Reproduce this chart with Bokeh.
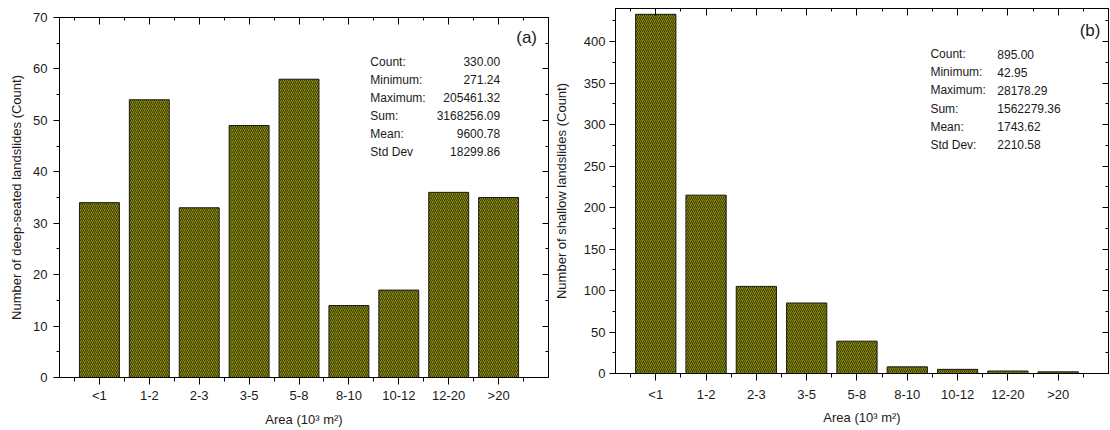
from bokeh.plotting import figure
from bokeh.layouts import row, column
from bokeh.models import Range1d, LinearAxis, FixedTicker, Label, Spacer
from bokeh.embed import file_html
from bokeh.resources import INLINE

categories = ["<1", "1-2", "2-3", "3-5", "5-8", "8-10", "10-12", "12-20", ">20"]
deep_counts = [34, 54, 33, 49, 58, 14, 17, 36, 35]
shallow_counts = [433, 215, 105, 85, 39, 8, 5, 3, 2]

deep_stat_names = ["Count:", "Minimum:", "Maximum:", "Sum:", "Mean:", "Std Dev"]
deep_stat_values = ["330.00", "271.24", "205461.32", "3168256.09", "9600.78", "18299.86"]
shallow_stat_names = ["Count:", "Minimum:", "Maximum:", "Sum:", "Mean:", "Std Dev:"]
shallow_stat_values = ["895.00", "42.95", "28178.29", "1562279.36", "1743.62", "2210.58"]

FONT = "Liberation Sans"
TXT = "#1a1a1a"
FILL = "#8a8a12"
HATCH = "#3a3a00"

positions = list(range(1, len(categories) + 1))
minor_x = [i - 0.5 for i in positions] + [positions[-1] + 0.5]


def make_panel(values, ymax, ymajor, yminor, ylabel, width, height, borders,
               ylab_standoff, xtick_standoff, xlab_standoff, ytick_standoff):
    left, right, top, bottom = borders
    p = figure(width=width, height=height, output_backend="svg", toolbar_location=None,
               x_range=Range1d(0.2, 10), y_range=Range1d(0, ymax),
               min_border_left=left, min_border_right=right,
               min_border_top=top, min_border_bottom=bottom,
               x_axis_location=None, y_axis_location=None)
    p.grid.visible = False
    p.outline_line_color = "black"
    p.outline_line_width = 1
    p.background_fill_color = "white"
    p.border_fill_color = "white"

    p.vbar(x=positions, top=values, bottom=0, width=0.8,
           fill_color=FILL, line_color="#1a1a1a", line_width=1,
           hatch_pattern="/", hatch_color=HATCH, hatch_scale=4, hatch_weight=1.0)

    yticks = list(range(0, int(ymax) + 1, ymajor))
    yminors = list(range(0, int(ymax) + 1, yminor))
    xt = FixedTicker(ticks=positions, minor_ticks=minor_x)
    yt = FixedTicker(ticks=yticks, minor_ticks=yminors)

    bx = LinearAxis(ticker=xt, axis_label="Area (10\u00b3 m\u00b2)")
    bx.major_label_overrides = {pos: c for pos, c in zip(positions, categories)}
    bx.major_tick_in = 0
    bx.major_tick_out = 7
    bx.minor_tick_in = 0
    bx.minor_tick_out = 4
    bx.major_label_standoff = xtick_standoff
    bx.axis_label_standoff = xlab_standoff
    p.add_layout(bx, "below")

    ly = LinearAxis(ticker=yt, axis_label=ylabel)
    ly.major_tick_in = 0
    ly.major_tick_out = 6
    ly.minor_tick_in = 0
    ly.minor_tick_out = 3
    ly.major_label_standoff = ytick_standoff
    ly.axis_label_standoff = ylab_standoff
    p.add_layout(ly, "left")

    tx = LinearAxis(ticker=FixedTicker(ticks=positions, minor_ticks=minor_x))
    tx.major_tick_in = 7
    tx.major_tick_out = 0
    tx.minor_tick_in = 3
    tx.minor_tick_out = 0
    tx.major_label_overrides = {pos: "" for pos in positions}
    tx.major_label_standoff = 0
    p.add_layout(tx, "above")

    ry = LinearAxis(ticker=FixedTicker(ticks=yticks, minor_ticks=yminors))
    ry.major_tick_in = 6
    ry.major_tick_out = 0
    ry.minor_tick_in = 3
    ry.minor_tick_out = 0
    ry.major_label_overrides = {t: "" for t in yticks}
    ry.major_label_standoff = 0
    p.add_layout(ry, "right")

    for ax in (bx, ly, tx, ry):
        ax.axis_line_color = "black"
        ax.axis_line_width = 1
        ax.major_tick_line_color = "black"
        ax.minor_tick_line_color = "black"
        ax.major_tick_line_width = 1
        ax.minor_tick_line_width = 1
        ax.major_label_text_font = FONT
        ax.axis_label_text_font = FONT
        ax.axis_label_text_font_style = "normal"
        ax.major_label_text_color = TXT
        ax.axis_label_text_color = TXT
        ax.major_label_text_font_size = "13px"
        ax.axis_label_text_font_size = "13px"
    return p


p1 = make_panel(deep_counts, 70, 10, 5, "Number of deep-seated landslides (Count)",
                550, 421, (59, 2, 8, 53), ylab_standoff=6, xtick_standoff=3,
                xlab_standoff=6, ytick_standoff=6)
p2 = make_panel(shallow_counts, 440, 50, 25, "Number of shallow landslides (Count)",
                560, 430, (65, 2, 8, 57), ylab_standoff=12, xtick_standoff=6,
                xlab_standoff=5, ytick_standoff=4)

# stats boxes
for i, (n, v) in enumerate(zip(deep_stat_names, deep_stat_values)):
    y = 61.4 - 3.5 * i
    p1.add_layout(Label(x=6.43, y=y, text=n, text_font=FONT, text_font_size="12px",
                        text_color=TXT, text_baseline="middle", text_align="left"))
    p1.add_layout(Label(x=9.03, y=y, text=v, text_font=FONT, text_font_size="12px",
                        text_color=TXT, text_baseline="middle", text_align="right"))

for i, (n, v) in enumerate(zip(shallow_stat_names, shallow_stat_values)):
    y = 385 - 21.9 * i
    p2.add_layout(Label(x=6.46, y=y, text=n, text_font=FONT, text_font_size="12px",
                        text_color=TXT, text_baseline="middle", text_align="left"))
    p2.add_layout(Label(x=7.79, y=y, text=v, text_font=FONT, text_font_size="12px",
                        text_color=TXT, text_baseline="middle", text_align="left"))

p1.add_layout(Label(x=9.77, y=66.2, text="(a)", text_font=FONT, text_font_size="17px",
                    text_color=TXT, text_baseline="middle", text_align="right"))
p2.add_layout(Label(x=9.84, y=414, text="(b)", text_font=FONT, text_font_size="17px",
                    text_color=TXT, text_baseline="middle", text_align="right"))

left_col = column(Spacer(width=550, height=9), p1, spacing=0)
layout = row(left_col, p2, spacing=0)
open("out.html", "w").write(file_html(layout, INLINE))
